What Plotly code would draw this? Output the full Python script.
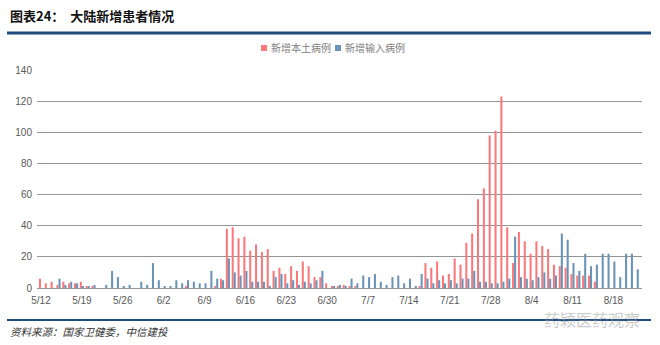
import pandas as pd
import plotly.graph_objects as go

# ---- data ----
dates = [f"{d.month}/{d.day}" for d in pd.date_range("2020-05-12", "2020-08-22")]

local_cases = [
    6, 3, 4, 2, 4, 3, 3, 4, 1, 1,      # 5/12-5/21
    0, 0, 0, 0, 0, 0, 0, 0, 0, 0,      # 5/22-5/31
    0, 0, 0, 0, 0, 1, 0, 0, 0, 0,      # 6/1-6/10
    1, 6, 38, 39, 32, 33, 24, 28, 23, 25,  # 6/11-6/20
    11, 13, 9, 14, 11, 17, 14, 7, 7, 3,    # 6/21-6/30
    1, 1, 2, 1, 1, 0, 0, 0, 0, 0,      # 7/1-7/10
    0, 0, 0, 0, 0, 1, 16, 13, 17, 8,   # 7/11-7/20
    9, 19, 15, 29, 35, 57, 64, 98, 101, 123,  # 7/21-7/30
    39, 16, 36, 30, 22, 30, 27, 25, 15, 14,   # 7/31-8/9
    13, 9, 8, 8, 8, 4, 0, 0, 0, 0,     # 8/10-8/19
    0, 0, 0,                           # 8/20-8/22
]

imported_cases = [
    0, 0, 0, 6, 2, 4, 3, 1, 1, 2,      # 5/12-5/21
    0, 2, 11, 7, 1, 2, 0, 4, 2, 16,    # 5/22-5/31
    5, 1, 1, 5, 3, 5, 4, 3, 3, 11,     # 6/1-6/10
    6, 5, 19, 10, 8, 11, 4, 4, 4, 1,   # 6/11-6/20
    7, 9, 3, 5, 2, 4, 3, 5, 11, 0,     # 6/21-6/30
    1, 2, 1, 6, 3, 8, 7, 9, 4, 2,      # 7/1-7/10
    7, 8, 3, 6, 1, 9, 6, 3, 5, 3,      # 7/11-7/20
    5, 3, 6, 6, 11, 4, 4, 3, 3, 4,     # 7/21-7/30
    6, 33, 7, 6, 5, 7, 10, 6, 8, 35,   # 7/31-8/9
    31, 16, 11, 22, 14, 15, 22, 22, 17, 7,  # 8/10-8/19
    22, 22, 12,                        # 8/20-8/22
]

series_names = ["新增本土病例", "新增输入病例"]
y_ticks = [0, 20, 40, 60, 80, 100, 120, 140]
x_tick_labels = dates[::7]

title_text = "图表24：  大陆新增患者情况"
source_text = "资料来源：国家卫健委，中信建投"
watermark_text = "药颖医药观察"

# ---- style ----
RED = "#F9787C"
BLUE = "#6B93B6"
NAVY = "#1D4C7C"
GRID = "#949494"
TXT = "#595959"
CJK = "Noto Sans CJK SC"

W, H = 660, 345
L, R, T, B = 37, 18, 70, 57
pw, ph = W - L - R, H - T - B


def px(x):
    return (x - L) / pw


def py(y):
    return (H - B - y) / ph


fig = go.Figure()
fig.add_trace(go.Bar(x=dates, y=local_cases, name=series_names[0],
                     marker=dict(color=RED, line=dict(width=0))))
fig.add_trace(go.Bar(x=dates, y=imported_cases, name=series_names[1],
                     marker=dict(color=BLUE, line=dict(width=0))))

shapes = [
    dict(type="line", xref="paper", yref="paper", x0=px(7), x1=px(651),
         y0=py(33), y1=py(33), line=dict(color=NAVY, width=3)),
    dict(type="line", xref="paper", yref="paper", x0=px(7), x1=px(651),
         y0=py(320), y1=py(320), line=dict(color=NAVY, width=2)),
    # legend swatches
    dict(type="rect", xref="paper", yref="paper", x0=px(261), x1=px(267),
         y0=py(51), y1=py(45), fillcolor=RED, line=dict(width=0)),
    dict(type="rect", xref="paper", yref="paper", x0=px(335), x1=px(341),
         y0=py(51), y1=py(45), fillcolor=BLUE, line=dict(width=0)),
]

annotations = [
    dict(text=f"<b>{title_text}</b>", xref="paper", yref="paper",
         x=px(8), y=py(16), xanchor="left", yanchor="middle", showarrow=False,
         font=dict(family=CJK, size=13, color="#111111")),
    dict(text=series_names[0], xref="paper", yref="paper",
         x=px(269), y=py(48), xanchor="left", yanchor="middle", showarrow=False,
         font=dict(family=CJK, size=10, color="#808080")),
    dict(text=series_names[1], xref="paper", yref="paper",
         x=px(343), y=py(48), xanchor="left", yanchor="middle", showarrow=False,
         font=dict(family=CJK, size=10, color="#808080")),
    dict(text=f"<i>{source_text}</i>", xref="paper", yref="paper",
         x=px(8), y=py(331), xanchor="left", yanchor="middle", showarrow=False,
         font=dict(family=CJK, size=10.5, color="#333333")),
    dict(text=watermark_text, xref="paper", yref="paper",
         x=px(592), y=py(319), xanchor="center", yanchor="middle", showarrow=False,
         font=dict(family=CJK, size=16, color="rgba(150,150,150,0.5)")),
]

fig.update_layout(
    width=W, height=H,
    margin=dict(l=L, r=R, t=T, b=B, pad=0),
    paper_bgcolor="white", plot_bgcolor="white",
    barmode="group", bargap=0.3, bargroupgap=0.0,
    showlegend=False,
    shapes=shapes, annotations=annotations,
    font=dict(family="Liberation Sans", size=10, color=TXT),
    xaxis=dict(type="category", range=[-0.68, 102.9],
               tickmode="array", tickvals=x_tick_labels, ticktext=x_tick_labels,
               showgrid=False, zeroline=False, showline=False, ticks="",
               ticklabelstandoff=5,
               tickfont=dict(family="Liberation Sans", size=10, color=TXT),
               fixedrange=True),
    yaxis=dict(range=[0, 140], tickmode="array", tickvals=y_ticks,
               showgrid=True, gridcolor=GRID, gridwidth=1,
               zeroline=True, zerolinecolor=GRID, zerolinewidth=1,
               showline=False, ticks="", ticklabelstandoff=4,
               tickfont=dict(family="Liberation Sans", size=10, color=TXT),
               fixedrange=True),
)

fig.write_html("out.html", config={"displayModeBar": False})
